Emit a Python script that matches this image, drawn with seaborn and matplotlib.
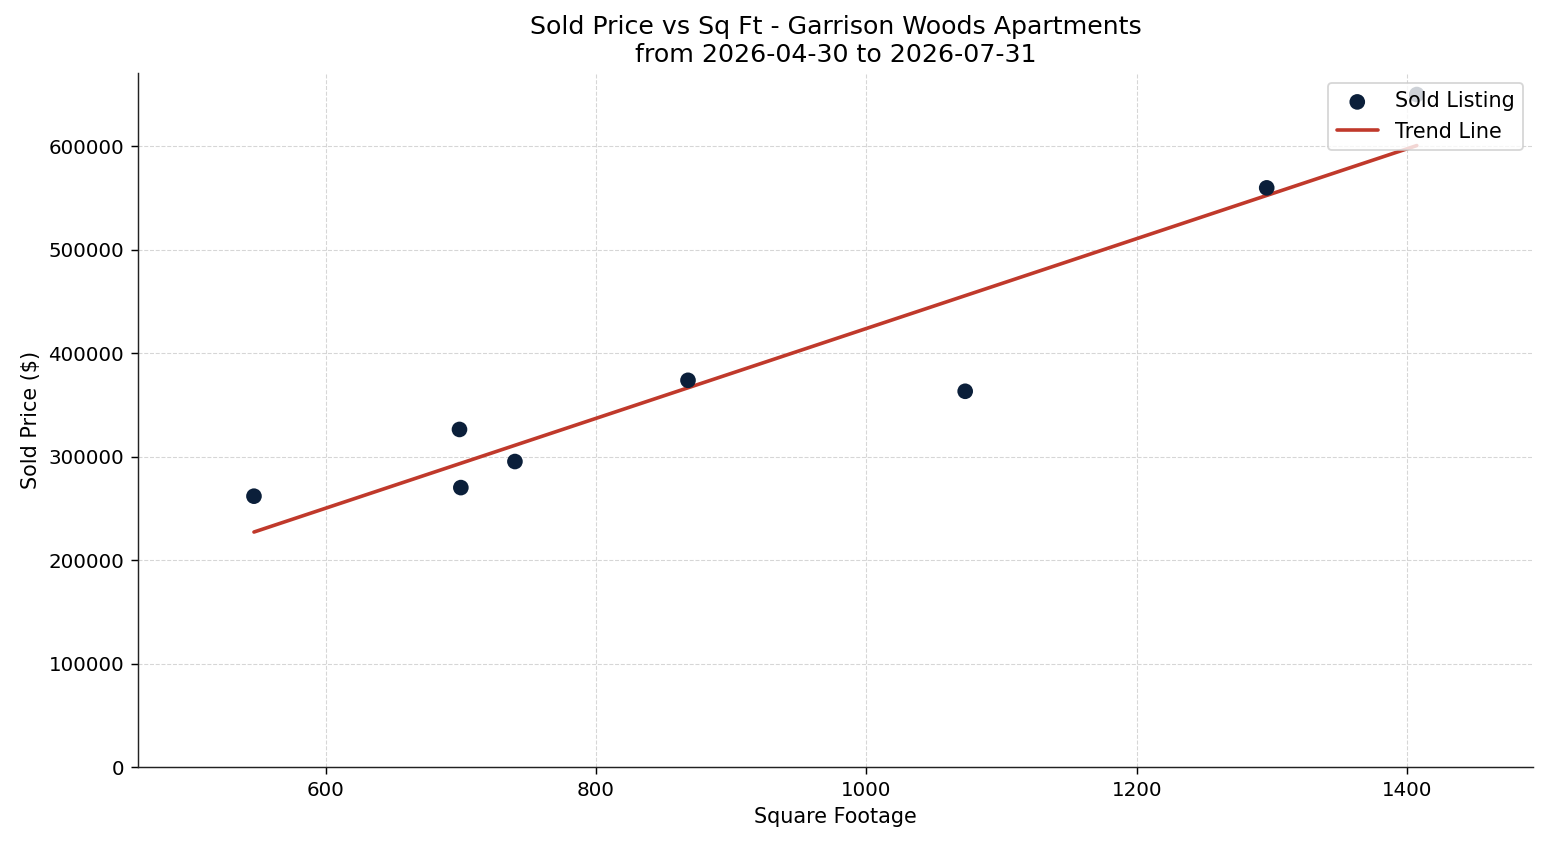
import numpy as np
import pandas as pd
import seaborn as sns
import matplotlib
matplotlib.use("Agg")
import matplotlib.pyplot as plt

# sold listings
sqft = [547, 699, 700, 740, 868, 1073, 1296, 1407]
price = [262000, 326500, 270300, 295500, 374000, 363400, 560000, 650200]

df = pd.DataFrame({"sqft": sqft, "price": price})

sns.set_style("white")
plt.rcParams["text.color"] = "black"
plt.rcParams["axes.labelcolor"] = "black"
plt.rcParams["xtick.color"] = "black"
plt.rcParams["ytick.color"] = "black"

fig, ax = plt.subplots(figsize=(11.9, 6.5), dpi=130)
fig.subplots_adjust(left=0.089, right=0.991, top=0.914, bottom=0.092)

sns.scatterplot(data=df, x="sqft", y="price", color="#0b1f3a", s=75,
                edgecolor="none", label="Sold Listing", ax=ax, zorder=3)
sns.regplot(data=df, x="sqft", y="price", scatter=False, ci=None,
            color="#c0392b", label="Trend Line", line_kws={"lw": 2}, ax=ax)

pad = (max(sqft) - min(sqft)) * 0.1
ax.set_xlim(min(sqft) - pad, max(sqft) + pad)
ax.set_ylim(0, None)

ax.set_title("Sold Price vs Sq Ft - Garrison Woods Apartments\nfrom 2026-04-30 to 2026-07-31", fontsize=14)
ax.set_xlabel("Square Footage", fontsize=11.5)
ax.set_ylabel("Sold Price ($)", fontsize=11.5)
ax.tick_params(axis="both", labelsize=11, length=4, left=True, bottom=True)
ax.grid(True, linestyle="--", linewidth=0.6, color="#cccccc", alpha=0.8)
sns.despine(ax=ax)
ax.spines["left"].set_color("#222222")
ax.spines["bottom"].set_color("#222222")
ax.legend(loc="upper right", fontsize=11.5)

fig.savefig("out.png", dpi=130)
